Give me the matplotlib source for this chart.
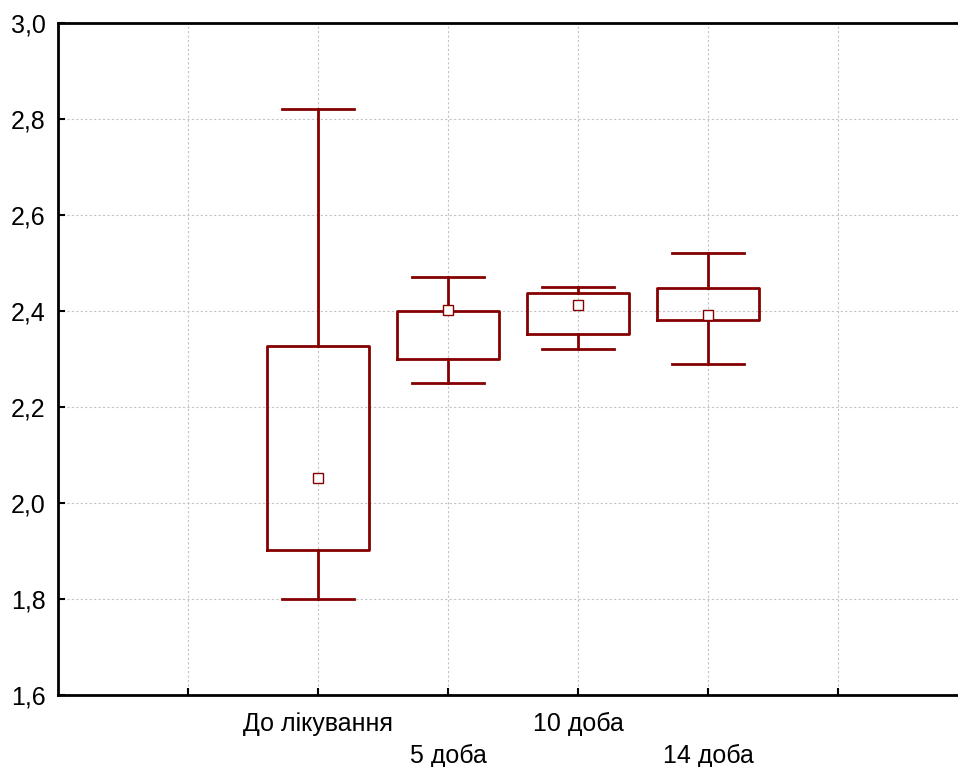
import matplotlib
matplotlib.use("Agg")
import matplotlib.pyplot as plt

plt.rcParams['font.family'] = ['Liberation Sans', 'DejaVu Sans']

# data
groups = ['До лікування', '5 доба', '10 доба', '14 доба']
positions = [2, 3, 4, 5]
whisker_low = [1.80, 2.25, 2.32, 2.29]
box_low = [1.902, 2.30, 2.352, 2.381]
center = [2.052, 2.402, 2.412, 2.392]
box_high = [2.328, 2.40, 2.437, 2.448]
whisker_high = [2.82, 2.47, 2.45, 2.52]

red = '#850000'

fig = plt.figure(figsize=(9.58, 7.67), dpi=100)
ax = fig.add_axes([58 / 958, 1 - 695 / 767, 910 / 958, 672 / 767])

stats = []
for i in range(len(groups)):
    stats.append({'whislo': whisker_low[i], 'q1': box_low[i], 'med': center[i],
                  'mean': center[i], 'q3': box_high[i], 'whishi': whisker_high[i]})

ax.bxp(stats, positions=positions, widths=0.78, capwidths=0.55,
       showmeans=True, showfliers=False,
       boxprops=dict(color=red, linewidth=2),
       whiskerprops=dict(color=red, linewidth=2),
       capprops=dict(color=red, linewidth=2),
       medianprops=dict(linewidth=0),
       meanprops=dict(marker='s', markersize=7, markerfacecolor='white',
                      markeredgecolor=red, markeredgewidth=1.0))

ax.set_xlim(0, 7)
ax.set_ylim(1.6, 3.0)

yt = [1.6, 1.8, 2.0, 2.2, 2.4, 2.6, 2.8, 3.0]
ax.set_yticks(yt)
ax.set_yticklabels([f'{v:.1f}'.replace('.', ',') for v in yt], fontsize=18)

ax.set_xticks([1, 2, 3, 4, 5, 6])
ax.set_xticklabels(['', groups[0], '\n' + groups[1], groups[2], '\n' + groups[3], ''],
                   fontsize=18, linespacing=1.42)

ax.tick_params(direction='in', length=5, width=1.5, color='black')
ax.tick_params(axis='x', pad=12)
ax.tick_params(axis='y', pad=9)
ax.grid(True, color='#c4c4c4', linestyle=(0, (2, 2)), linewidth=0.8)
ax.set_axisbelow(True)

for s in ['left', 'bottom', 'top']:
    ax.spines[s].set_linewidth(2)
ax.spines['right'].set_visible(False)

fig.savefig('out.png', dpi=100)
